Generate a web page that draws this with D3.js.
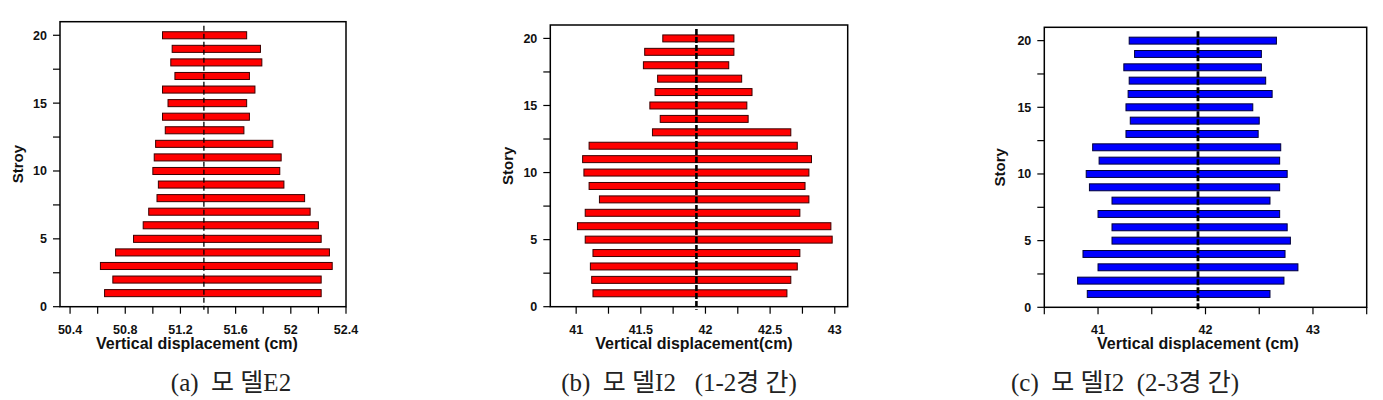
<!DOCTYPE html>
<html><head><meta charset="utf-8">
<script src="https://cdn.jsdelivr.net/npm/d3@7"></script>
<style>body{margin:0;background:#fff}svg{display:block}.cap{white-space:pre}</style>
</head><body>
<svg id="c" width="1383" height="400"></svg>
<script>
// ---------- data ----------
const stories = [1,2,3,4,5,6,7,8,9,10,11,12,13,14,15,16,17,18,19,20];
const aMin = [50.65,50.71,50.62,50.73,50.86,50.93,50.97,51.03,51.04,51.00,51.01,51.02,51.09,51.07,51.11,51.07,51.16,51.13,51.14,51.07];
const aMax = [52.22,52.22,52.30,52.28,52.22,52.20,52.14,52.10,51.95,51.92,51.93,51.87,51.66,51.70,51.68,51.74,51.70,51.79,51.78,51.68];
const bMin = [41.13,41.12,41.11,41.13,41.07,41.01,41.07,41.18,41.10,41.06,41.05,41.10,41.59,41.65,41.57,41.61,41.63,41.52,41.53,41.67];
const bMax = [42.63,42.66,42.71,42.73,42.98,42.97,42.73,42.80,42.77,42.80,42.82,42.71,42.66,42.33,42.32,42.36,42.28,42.18,42.22,42.22];
const cMin = [40.90,40.81,41.00,40.86,41.13,41.13,41.00,41.13,40.92,40.89,41.01,40.95,41.26,41.30,41.26,41.28,41.29,41.24,41.34,41.29];
const cMax = [42.60,42.73,42.86,42.74,42.79,42.76,42.69,42.60,42.69,42.76,42.69,42.70,42.49,42.50,42.44,42.62,42.56,42.52,42.52,42.66];
const aRef = 51.37, bRef = 41.93, cRef = 41.93;
const aTicks = [50.4,50.8,51.2,51.6,52,52.4];
const aMinor = [50.6,51.0,51.4,51.8,52.2];
const bTicks = [41,41.5,42,42.5,43];
const bMinor = [41.25,41.75,42.25,42.75];
const cTicks = [41,42,43];
const cMinor = [40.5,41.5,42.5,43.5];
const yTicks = [0,5,10,15,20];
const yMinor = [2.5,7.5,12.5,17.5];
const yLabels = ["Stroy","Story","Story"];
const xLabels = ["Vertical displacement (cm)","Vertical displacement(cm)","Vertical displacement (cm)"];
const captions = ["(a)  모 델E2","(b)  모 델I2   (1-2경 간)","(c)  모 델I2  (2-3경 간)"];

const panels = [
  {lo:aMin, hi:aMax, ref:aRef, ticks:aTicks, minor:aMinor, dom:[50.327,52.4], box:[60,21.7,346,306.7], fill:"#ff0000", stroke:"#3a0000", dashW:1.3, dash:"5,3", ylx:18, xlc:197, capc:231},
  {lo:bMin, hi:bMax, ref:bRef, ticks:bTicks, minor:bMinor, dom:[40.80,43.10], box:[550.3,25,847.7,306.7], fill:"#ff0000", stroke:"#3a0000", dashW:2.6, dash:"6,2", ylx:508, xlc:694, capc:679},
  {lo:cMin, hi:cMax, ref:cRef, ticks:cTicks, minor:cMinor, dom:[40.5,43.5], box:[1044.3,27.3,1366.7,307.3], fill:"#0000ff", stroke:"#00003a", dashW:2.8, dash:"6,2", ylx:1000, xlc:1198, capc:1125}
];

const svg = d3.select("#c");
const fmt = v => String(+v.toFixed(2));
const tickLen = 7;
const SANS = "'Liberation Sans', Arial, Helvetica, sans-serif";

panels.forEach((p,i)=>{
  const [L,T,R,B] = p.box;
  const x = d3.scaleLinear().domain(p.dom).range([L,R]);
  const y = d3.scaleLinear().domain([0,21]).range([B,T]);
  const g = svg.append("g");

  // bars
  g.selectAll("rect.bar").data(stories).join("rect")
    .attr("x", (s,k)=>x(p.lo[k]))
    .attr("width", (s,k)=>x(p.hi[k])-x(p.lo[k]))
    .attr("y", s=>y(s+0.26))
    .attr("height", s=>y(s-0.26)-y(s+0.26))
    .attr("fill", p.fill).attr("stroke", p.stroke).attr("stroke-width",1);

  // dashed reference line
  g.append("line")
    .attr("x1", x(p.ref)).attr("x2", x(p.ref))
    .attr("y1", y(20.7)).attr("y2", B+3)
    .attr("stroke","#000").attr("stroke-width",p.dashW).attr("stroke-dasharray",p.dash);

  // frame
  g.append("rect").attr("x",L).attr("y",T).attr("width",R-L).attr("height",B-T)
    .attr("fill","none").attr("stroke","#000").attr("stroke-width",1.5);

  // x ticks
  const xt = p.ticks.concat(p.minor);
  g.selectAll("line.xt").data(xt).join("line")
    .attr("x1",d=>x(d)).attr("x2",d=>x(d)).attr("y1",B).attr("y2",B+tickLen)
    .attr("stroke","#000").attr("stroke-width",1.2);
  g.selectAll("text.xl").data(p.ticks).join("text")
    .attr("x",d=>x(d)).attr("y",B+27).attr("text-anchor","middle")
    .attr("font-family",SANS).attr("font-size",12.5).attr("font-weight","bold")
    .attr("fill","#111").text(fmt);

  // y ticks
  const yt = yTicks.concat(yMinor);
  g.selectAll("line.yt").data(yt).join("line")
    .attr("x1",L-tickLen).attr("x2",L).attr("y1",d=>y(d)).attr("y2",d=>y(d))
    .attr("stroke","#000").attr("stroke-width",1.2);
  g.selectAll("text.yl").data(yTicks).join("text")
    .attr("x",L-13).attr("y",d=>y(d)+4.5).attr("text-anchor","end")
    .attr("font-family",SANS).attr("font-size",12.5).attr("font-weight","bold")
    .attr("fill","#111").text(d=>d);

  // axis titles
  g.append("text").attr("transform",`translate(${p.ylx+5},${(T+B)/2}) rotate(-90)`)
    .attr("text-anchor","middle")
    .attr("font-family",SANS).attr("font-size",15).attr("font-weight","bold")
    .attr("fill","#111").text(yLabels[i]);
  g.append("text").attr("x",p.xlc).attr("y",349).attr("text-anchor","middle")
    .attr("font-family",SANS).attr("font-size",16).attr("font-weight","bold")
    .attr("fill","#111").text(xLabels[i]);

  // caption
  g.append("text").attr("class","cap").attr("transform",`translate(${p.capc},391)`)
    .attr("text-anchor","middle")
    .attr("font-family","'Liberation Serif', 'Noto Sans CJK KR', serif").attr("font-size",25)
    .attr("fill","#222").text(captions[i]);
});
</script>
</body></html>
